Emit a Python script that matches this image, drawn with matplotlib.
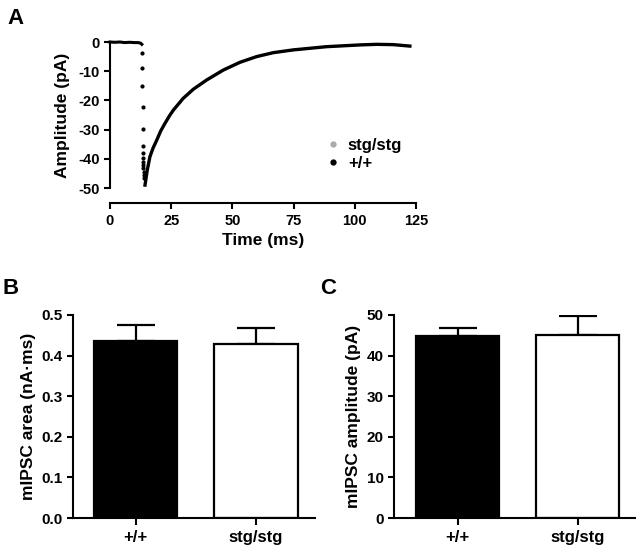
import matplotlib
matplotlib.use("Agg")
import matplotlib.pyplot as plt
from matplotlib.lines import Line2D

plt.rcParams['font.family'] = ['Liberation Sans', 'DejaVu Sans']
plt.rcParams['font.weight'] = 'bold'
plt.rcParams['axes.labelweight'] = 'bold'
plt.rcParams['axes.unicode_minus'] = False
plt.rcParams['axes.linewidth'] = 1.5

# --- panel A : average mIPSC trace ---
base_t = [0, 2, 4, 6, 8, 10, 11.5, 12.5, 13.0]
base_a = [0.0, -0.1, 0.0, -0.2, -0.1, -0.2, -0.2, -0.4, -0.8]

rise_t = [13.2, 13.2, 13.25, 13.3, 13.3, 13.35, 13.4, 13.45, 13.5, 13.55, 13.6, 13.7, 13.8, 13.9]
rise_a = [-3.9, -9.0, -15.1, -22.4, -29.9, -35.6, -38.1, -39.8, -41.0, -42.1, -43.3, -44.4, -45.5, -46.7]

decay_t = [14.3, 15.2, 16.3, 17.6, 19.1, 20.7, 22.5, 24.2, 25.9, 29.9, 34.0, 39.5, 46.3,
           53.1, 59.9, 66.7, 74.9, 81.7, 88.5, 95.3, 102.1, 108.9, 115.7, 122.5]
decay_a = [-49.0, -44.0, -39.3, -36.3, -33.6, -30.5, -27.8, -25.4, -23.3, -19.3, -16.2, -13.0, -9.6,
           -6.95, -5.0, -3.65, -2.7, -2.15, -1.6, -1.3, -1.0, -0.8, -0.9, -1.4]

# stg/stg trace sits under the +/+ trace
stg_t = decay_t
stg_a = decay_a

# --- panels B and C : bar charts ---
genotypes = ['+/+', 'stg/stg']
area_mean = [0.437, 0.429]
area_sem = [0.039, 0.040]
amp_mean = [44.8, 45.0]
amp_sem = [2.0, 4.7]
bar_colors = ['black', 'white']

fig = plt.figure(figsize=(6.4, 5.48), dpi=100)

# panel A
axA = fig.add_axes([110/640, 1-188/548, 306/640, 146/548])
axA.plot(stg_t, stg_a, color='#aaaaaa', lw=1.5, clip_on=False, zorder=2)
axA.plot(base_t, base_a, color='black', lw=2.2, clip_on=False, zorder=3)
axA.plot(decay_t, decay_a, color='black', lw=2.4, clip_on=False, zorder=3)
axA.plot(rise_t, rise_a, ls='', marker='o', ms=2.0, color='black', clip_on=False, zorder=3)
axA.set_xlim(0, 125)
axA.set_ylim(-50, 0)
axA.set_xticks([0, 25, 50, 75, 100, 125])
axA.set_yticks([0, -10, -20, -30, -40, -50])
axA.spines['top'].set_visible(False)
axA.spines['right'].set_visible(False)
axA.spines['bottom'].set_position(('outward', 11))
axA.tick_params(width=1.5, length=4, labelsize=10.5)
axA.set_xlabel('Time (ms)', fontsize=12.5)
axA.set_ylabel('Amplitude (pA)', fontsize=12.5, labelpad=6)
handles = [Line2D([], [], ls='', marker='o', ms=3.5, color='#aaaaaa'),
           Line2D([], [], ls='', marker='o', ms=3.5, color='black')]
axA.legend(handles, ['stg/stg', '+/+'], loc='center left', bbox_to_anchor=(0.685, 0.23),
           frameon=False, handlelength=0.6, handletextpad=0.6, labelspacing=0.15,
           borderpad=0, fontsize=12)


def bar_panel(rect, means, sems, ylim, yticks, fmt, ylabel, xlim):
    ax = fig.add_axes(rect)
    ax.bar([0, 1], means, width=0.69, color=bar_colors, edgecolor='black', linewidth=1.6, zorder=2)
    ax.errorbar([0, 1], means, yerr=[[0, 0], sems], fmt='none', ecolor='black',
                elinewidth=1.6, capsize=14, capthick=1.6, zorder=1)
    ax.set_xlim(*xlim)
    ax.set_ylim(*ylim)
    ax.set_yticks(yticks)
    ax.set_yticklabels([fmt.format(v) for v in yticks])
    ax.set_xticks([0, 1])
    ax.set_xticklabels(genotypes, fontsize=12)
    ax.spines['top'].set_visible(False)
    ax.spines['right'].set_visible(False)
    ax.tick_params(axis='y', width=1.5, length=4, labelsize=11)
    ax.tick_params(axis='x', width=1.5, length=5)
    ax.set_ylabel(ylabel, fontsize=12.5)
    return ax


bar_panel([73/640, 1-518/548, 242/640, 203/548], area_mean, area_sem, (0, 0.5),
          [0.0, 0.1, 0.2, 0.3, 0.4, 0.5], '{:.1f}', 'mIPSC area (nA\u00b7ms)', (-0.52, 1.49))
bar_panel([394/640, 1-518/548, 241/640, 203/548], amp_mean, amp_sem, (0, 50),
          [0, 10, 20, 30, 40, 50], '{:.0f}', 'mIPSC amplitude (pA)', (-0.53, 1.475))

fig.text(7/640, 1-19/548, 'A', fontsize=16, ha='left', va='center')
fig.text(3/640, 1-289/548, 'B', fontsize=16, ha='left', va='center')
fig.text(320/640, 1-289/548, 'C', fontsize=16, ha='left', va='center')

fig.savefig('out.png', dpi=100)
